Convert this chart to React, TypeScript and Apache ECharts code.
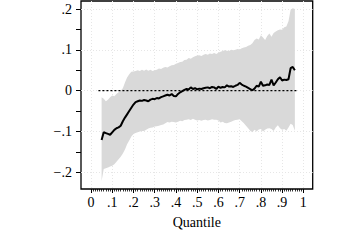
import React, { useEffect, useRef } from "react";
import * as echarts from "echarts";

const quantiles = [
  0.05, 0.06, 0.07, 0.08, 0.09, 0.1, 0.11, 0.12, 0.13, 0.14, 0.15, 0.16, 0.17, 0.18, 0.19,
  0.2, 0.21, 0.22, 0.23, 0.24, 0.25, 0.26, 0.27, 0.28, 0.29, 0.3, 0.31, 0.32, 0.33, 0.34,
  0.35, 0.36, 0.37, 0.38, 0.39, 0.4, 0.41, 0.42, 0.43, 0.44, 0.45, 0.46, 0.47, 0.48, 0.49,
  0.5, 0.51, 0.52, 0.53, 0.54, 0.55, 0.56, 0.57, 0.58, 0.59, 0.6, 0.61, 0.62, 0.63, 0.64,
  0.65, 0.66, 0.67, 0.68, 0.69, 0.7, 0.71, 0.72, 0.73, 0.74, 0.75, 0.76, 0.77, 0.78, 0.79,
  0.8, 0.81, 0.82, 0.83, 0.84, 0.85, 0.86, 0.87, 0.88, 0.89, 0.9, 0.91, 0.92, 0.93, 0.94,
  0.95, 0.96,
];

const estimate = [
  -0.121, -0.102, -0.104, -0.106, -0.108, -0.102, -0.096, -0.092, -0.09, -0.086, -0.075,
  -0.066, -0.058, -0.05, -0.042, -0.034, -0.028, -0.026, -0.024, -0.025, -0.023, -0.024,
  -0.026, -0.022, -0.02, -0.021, -0.018, -0.019, -0.016, -0.014, -0.012, -0.01, -0.012,
  -0.008, -0.013, -0.014, -0.008, -0.004, -0.001, 0.002, 0.004, 0.003, 0.008, 0.004, 0.006,
  0.003, 0.005, 0.004, 0.006, 0.007, 0.008, 0.006, 0.009, 0.008, 0.004, 0.01, 0.007, 0.009,
  0.008, 0.013, 0.01, 0.011, 0.009, 0.012, 0.014, 0.019, 0.015, 0.012, 0.01, 0.007, 0.004,
  0.001, 0.005, 0.012, 0.01, 0.022, 0.012, 0.013, 0.015, 0.014, 0.027, 0.013, 0.02, 0.028,
  0.033, 0.025, 0.027, 0.026, 0.028, 0.055, 0.058, 0.05,
];

const upper = [
  -0.016, -0.02, -0.026, -0.022, -0.016, -0.012, -0.014, -0.008, -0.004, 0.0, 0.006, 0.02,
  0.032, 0.04, 0.046, 0.047, 0.048, 0.05, 0.048, 0.051, 0.049, 0.052, 0.049, 0.051, 0.048,
  0.05, 0.051, 0.054, 0.053, 0.056, 0.058, 0.057, 0.06, 0.062, 0.063, 0.066, 0.068, 0.07,
  0.071, 0.075, 0.076, 0.08, 0.078, 0.082, 0.084, 0.086, 0.087, 0.085, 0.088, 0.09, 0.088,
  0.091, 0.09, 0.092, 0.09, 0.093, 0.095, 0.097, 0.099, 0.098, 0.097, 0.1, 0.099, 0.1, 0.102,
  0.101, 0.104, 0.106, 0.107, 0.11, 0.112, 0.116, 0.124, 0.128, 0.125, 0.136, 0.13, 0.124,
  0.134, 0.14, 0.132, 0.141, 0.145, 0.148, 0.15, 0.149, 0.155, 0.157, 0.17, 0.198, 0.202,
  0.2,
];

const lower = [
  -0.221, -0.192, -0.19, -0.188, -0.186, -0.184, -0.18, -0.174, -0.168, -0.162, -0.154,
  -0.144, -0.131, -0.122, -0.112, -0.106, -0.104, -0.102, -0.1, -0.099, -0.099, -0.096,
  -0.093, -0.091, -0.09, -0.088, -0.087, -0.086, -0.084, -0.083, -0.08, -0.077, -0.078,
  -0.076, -0.077, -0.078, -0.076, -0.074, -0.075, -0.072, -0.071, -0.07, -0.072, -0.069,
  -0.071, -0.073, -0.072, -0.074, -0.072, -0.071, -0.073, -0.072, -0.07, -0.071, -0.071,
  -0.073, -0.078, -0.076, -0.079, -0.08, -0.078, -0.076, -0.074, -0.072, -0.071, -0.07,
  -0.075, -0.08, -0.086, -0.092, -0.098, -0.102, -0.096, -0.1, -0.095, -0.094, -0.1, -0.096,
  -0.093, -0.092, -0.094, -0.099, -0.09, -0.085, -0.092, -0.096, -0.094, -0.098, -0.09,
  -0.081, -0.084, -0.098,
];

const zeroLineX = [0.035, 0.97];

const xTickValues = [0, 0.1, 0.2, 0.3, 0.4, 0.5, 0.6, 0.7, 0.8, 0.9, 1];
const xTickLabels = ["0", ".1", ".2", ".3", ".4", ".5", ".6", ".7", ".8", ".9", "1"];
const xMinorTickValues = Array.from({ length: 101 }, (_, i) => i / 100);

const yTickValues = [-0.2, -0.1, 0, 0.1, 0.2];
const yTickLabels = ["\u2212.2", "\u2212.1", "0", ".1", ".2"];
const yMinorTickValues = [-0.2, -0.15, -0.1, -0.05, 0, 0.05, 0.1, 0.15, 0.2];

const X_MIN = -0.047;
const X_MAX = 1.044;
const Y_MIN = -0.2409;
const Y_MAX = 0.2196;

const FONT = "Liberation Serif";

function lookup(values: number[], labels: string[], v: number): string {
  for (let i = 0; i < values.length; i++) {
    if (Math.abs(values[i] - v) < 1e-6) return labels[i];
  }
  return "";
}

export default function App() {
  const ref = useRef<HTMLDivElement>(null);

  useEffect(() => {
    if (!ref.current) return;
    const chart = echarts.init(ref.current, null, { renderer: "svg" });

    const bandData = quantiles.map((q, i) => [q, lower[i], upper[i]]);

    const option: any = {
      animation: false,
      backgroundColor: "#fff",
      grid: {
        left: 81,
        top: 1,
        width: 231.7,
        height: 188,
        show: true,
        borderColor: "#000",
        borderWidth: 1.3,
        backgroundColor: "transparent",
      },
      xAxis: [
        {
          type: "value",
          position: "bottom",
          min: X_MIN,
          max: X_MAX,
          axisLine: { show: false, onZero: false },
          axisTick: {
            show: true,
            customValues: xTickValues,
            length: 4,
            lineStyle: { color: "#000", width: 1 },
          },
          axisLabel: {
            customValues: xTickValues,
            formatter: (v: number) => lookup(xTickValues, xTickLabels, v),
            fontFamily: FONT,
            fontSize: 14,
            color: "#000",
            margin: 6,
          },
          splitLine: {
            show: true,
            lineStyle: { color: "#e6e6e6", type: [1, 2], width: 1 },
          },
          name: "Quantile",
          nameLocation: "middle",
          nameGap: 26,
          nameTextStyle: { fontFamily: FONT, fontSize: 14, color: "#000" },
        },
        {
          type: "value",
          position: "bottom",
          min: X_MIN,
          max: X_MAX,
          axisLine: { show: false, onZero: false },
          axisTick: {
            show: true,
            customValues: xMinorTickValues,
            length: 2.5,
            lineStyle: { color: "#000", width: 0.8 },
          },
          axisLabel: { show: false },
          splitLine: { show: false },
        },
      ],
      yAxis: [
        {
          type: "value",
          position: "left",
          min: Y_MIN,
          max: Y_MAX,
          axisLine: { show: false, onZero: false },
          axisTick: {
            show: true,
            customValues: yMinorTickValues,
            length: 5,
            lineStyle: { color: "#000", width: 1 },
          },
          axisLabel: {
            customValues: yTickValues,
            formatter: (v: number) => lookup(yTickValues, yTickLabels, v),
            fontFamily: FONT,
            fontSize: 14,
            color: "#000",
            margin: 9,
          },
          splitLine: { show: false },
        },
        {
          type: "value",
          position: "left",
          min: Y_MIN,
          max: Y_MAX,
          axisLine: { show: false, onZero: false },
          axisTick: { show: false, customValues: yTickValues },
          axisLabel: { show: false },
          splitLine: {
            show: true,
            lineStyle: { color: "#e6e6e6", type: [1, 2], width: 1 },
          },
        },
      ],
      series: [
        {
          type: "custom",
          xAxisIndex: 0,
          yAxisIndex: 0,
          data: bandData,
          silent: true,
          z: 1,
          renderItem: (params: any, api: any) => {
            if (params.dataIndex !== 0) return null;
            const pts: number[][] = [];
            for (let i = 0; i < quantiles.length; i++) {
              pts.push(api.coord([quantiles[i], upper[i]]));
            }
            for (let i = quantiles.length - 1; i >= 0; i--) {
              pts.push(api.coord([quantiles[i], lower[i]]));
            }
            return {
              type: "polygon",
              shape: { points: pts },
              style: { fill: "#d9d9d9", stroke: "none" },
            };
          },
        },
        {
          type: "line",
          xAxisIndex: 0,
          yAxisIndex: 0,
          data: zeroLineX.map((x) => [x, 0]),
          showSymbol: false,
          symbol: "none",
          z: 2,
          lineStyle: { color: "#000", width: 1.3, type: [2, 2] },
        },
        {
          type: "line",
          xAxisIndex: 0,
          yAxisIndex: 0,
          data: quantiles.map((q, i) => [q, estimate[i]]),
          showSymbol: false,
          symbol: "none",
          z: 3,
          lineStyle: { color: "#000", width: 2 },
        },
      ],
    };

    chart.setOption(option);
    return () => chart.dispose();
  }, []);

  return (
    <div
      ref={ref}
      style={{ position: "absolute", left: 0, top: 0, width: 360, height: 240 }}
    />
  );
}
